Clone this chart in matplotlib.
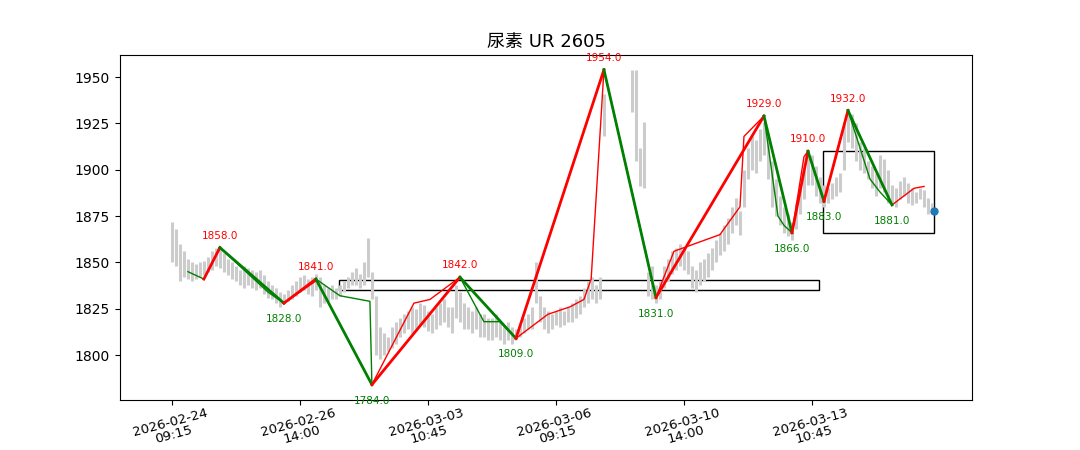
import numpy as np
import matplotlib.pyplot as plt

plt.rcParams['font.family'] = ['DejaVu Sans', 'Noto Sans CJK SC']

nan = np.nan
# gray bars (low / high per bar index)
bar_hi = [1872, 1868, 1860, 1856, 1852, 1850, 1849, 1850, 1851, 1853,
          1856, 1858, 1857, 1855, 1852, 1850, 1848, 1846, 1848, 1847,
          1846, 1845, 1846, 1843, 1840, 1838, 1836, 1834, 1833, 1835,
          1838, 1840, 1842, 1843, 1841, 1842, 1844, 1842, 1838, 1836,
          1838, 1836, 1838, 1840, 1842, 1845, 1847, 1844, 1850, 1863,
          1845, 1832, 1815, 1812, 1810, 1815, 1818, 1820, 1822, 1824,
          1826, 1825, 1828, 1827, 1824, 1822, 1826, 1828, 1830, 1826,
          1826, 1838, 1834, 1828, 1826, 1824, 1826, 1822, 1822, 1820,
          1820, 1822, 1818, 1816, 1818, 1815, 1814, 1816, 1820, 1822,
          1826, 1850, 1832, 1826, 1824, 1822, 1824, 1826, 1824, 1826,
          1828, 1830, 1832, 1836, 1840, 1842, 1838, 1842, 1941, nan,
          nan, nan, nan, nan, nan, 1954, 1954, 1912, 1926, 1845,
          1848, 1838, 1840, 1848, 1852, 1856, 1858, 1860, 1858, 1856,
          1848, 1846, 1850, 1852, 1855, 1858, 1862, 1866, 1870, 1874,
          1880, 1885, 1878, 1900, 1912, 1918, 1916, 1922, 1926, 1920,
          1905, 1895, 1886, 1880, 1876, 1872, 1882, 1890, 1900, 1910,
          1908, 1902, 1896, 1892, 1890, 1893, 1896, 1898, 1926, 1932,
          1930, 1925, 1915, 1912, 1905, 1902, 1898, 1908, 1906, 1900,
          1892, 1890, 1894, 1896, 1893, 1890, 1888, 1890, 1889, 1885, 1882]
bar_lo = [1850, 1848, 1840, 1842, 1841, 1840, 1841, 1842, 1843, 1845,
          1846, 1848, 1847, 1845, 1843, 1841, 1840, 1838, 1836, 1838,
          1836, 1835, 1836, 1833, 1831, 1830, 1828, 1826, 1828, 1829,
          1830, 1832, 1834, 1835, 1833, 1832, 1835, 1826, 1828, 1829,
          1830, 1830, 1832, 1834, 1836, 1838, 1838, 1836, 1838, 1842,
          1830, 1800, 1798, 1800, 1802, 1804, 1806, 1810, 1812, 1814,
          1812, 1814, 1816, 1815, 1813, 1812, 1814, 1816, 1818, 1815,
          1812, 1820, 1818, 1814, 1814, 1812, 1814, 1810, 1810, 1808,
          1808, 1810, 1808, 1806, 1808, 1806, 1808, 1810, 1812, 1814,
          1814, 1828, 1818, 1814, 1812, 1814, 1816, 1815, 1816, 1818,
          1818, 1820, 1822, 1826, 1828, 1830, 1828, 1830, 1918, nan,
          nan, nan, nan, nan, nan, 1931, 1905, 1891, 1890, 1832,
          1830, 1828, 1830, 1836, 1840, 1844, 1846, 1848, 1846, 1844,
          1836, 1834, 1838, 1840, 1842, 1846, 1850, 1854, 1856, 1860,
          1866, 1870, 1865, 1880, 1895, 1900, 1898, 1905, 1908, 1895,
          1880, 1875, 1870, 1866, 1864, 1862, 1868, 1876, 1884, 1892,
          1892, 1886, 1882, 1880, 1882, 1884, 1886, 1888, 1900, 1915,
          1912, 1905, 1900, 1898, 1895, 1890, 1886, 1890, 1888, 1882,
          1882, 1880, 1884, 1886, 1882, 1881, 1882, 1884, 1880, 1876, 1876]

# main zigzag pivots
piv_x = [8, 12, 28, 36, 50, 72, 86, 108, 121, 148, 155, 159, 163, 169, 180]
piv_y = [1841, 1858, 1828, 1841, 1784, 1842, 1809, 1954, 1831, 1929, 1866, 1910, 1883, 1932, 1881]

# thin sub-wave lines
thin_green = [
    ([4, 8], [1845, 1841]),
    ([12, 24, 28], [1858, 1834, 1828]),
    ([36, 42, 49.5, 50], [1841, 1832, 1829, 1784]),
    ([72, 78, 82, 86], [1842, 1818, 1818, 1809]),
    ([108, 121], [1954, 1831]),
    ([148, 151.5, 153, 155], [1929, 1875, 1870, 1866]),
    ([159, 163], [1910, 1883]),
    ([169, 174.5, 177, 180], [1932, 1895, 1888, 1881]),
]
thin_red = [
    ([28, 36], [1828, 1840]),
    ([50, 60.5, 64.5, 72], [1784, 1828, 1830, 1842]),
    ([86, 94, 99.5, 103, 104.8, 108], [1809, 1822, 1826, 1830, 1841, 1954]),
    ([121, 125.5, 137, 142, 143, 148], [1831, 1856, 1865, 1880, 1918, 1929]),
    ([155, 158, 159], [1866, 1907, 1910]),
    ([163, 169], [1883, 1932]),
    ([180, 185.5, 188], [1881, 1890, 1891]),
]

tick_pos = [0, 32, 64, 96, 128, 160]
tick_lab = ['2026-02-24\n09:15', '2026-02-26\n14:00', '2026-03-03\n10:45',
            '2026-03-06\n09:15', '2026-03-10\n14:00', '2026-03-13\n10:45']

fig = plt.figure(figsize=(10.8, 4.5), dpi=100)
ax = fig.add_axes([0.111, 0.111, 0.789, 0.767])

idx = np.arange(len(bar_hi))
ax.vlines(idx, bar_lo, bar_hi, color='#cccccc', lw=2.2)

for xs, ys in thin_green:
    ax.plot(xs, ys, color='green', lw=1)
for xs, ys in thin_red:
    ax.plot(xs, ys, color='red', lw=1)

for k in range(len(piv_x) - 1):
    c = 'red' if piv_y[k + 1] > piv_y[k] else 'green'
    ax.plot(piv_x[k:k + 2], piv_y[k:k + 2], color=c, lw=2)

for i in range(1, len(piv_x)):
    x, y = piv_x[i], piv_y[i]
    top = y > piv_y[i - 1]
    ax.annotate(f'{y:.1f}', (x, y), xytext=(0, 5 if top else -8), textcoords='offset points',
                ha='center', va='bottom' if top else 'top', fontsize=7.5,
                color='red' if top else 'green')

# boxes
ax.add_patch(plt.Rectangle((41.75, 1835), 120, 5.5, fill=False, ec='black', lw=1))
ax.add_patch(plt.Rectangle((162.75, 1866), 27.75, 44, fill=False, ec='black', lw=1))

ax.scatter([190.5], [1878], s=25, color='#1f77b4', zorder=5)

ax.set_xlim(-13, 200)
ax.set_ylim(1775.7, 1962)
ax.set_xticks(tick_pos)
ax.set_xticklabels(tick_lab, rotation=15, linespacing=0.95, fontsize=9.5)
ax.tick_params(axis='x', pad=1)
ax.set_yticks([1800, 1825, 1850, 1875, 1900, 1925, 1950])
ax.set_title('尿素 UR 2605', fontsize=13)

fig.savefig('out.png')
